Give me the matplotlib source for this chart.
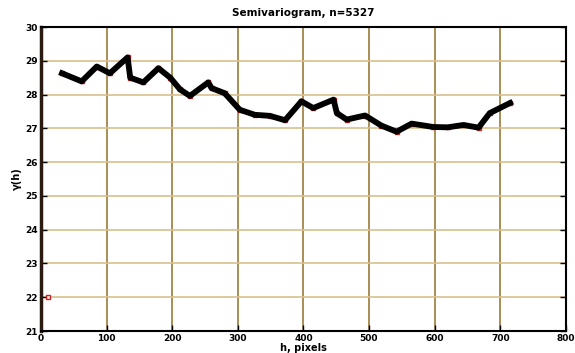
import matplotlib.pyplot as plt
import numpy as np

plt.rcParams['font.family'] = ['DejaVu Sans']
plt.rcParams['font.weight'] = 'bold'

# lag distance (pixels) and semivariance
h = [10, 32, 62, 85, 105, 132, 136, 156, 179, 197, 212, 227, 255, 260, 280,
     303, 326, 349, 372, 397, 415, 446, 451, 466, 494, 519, 542, 565, 598,
     620, 644, 667, 684, 715]
gamma = [22.0, 28.63, 28.39, 28.83, 28.63, 29.1, 28.5, 28.36, 28.78, 28.5,
         28.15, 27.96, 28.36, 28.19, 28.04, 27.55, 27.40, 27.37, 27.24, 27.8,
         27.6, 27.85, 27.45, 27.26, 27.38, 27.08, 26.9, 27.14, 27.04, 27.03,
         27.1, 27.02, 27.45, 27.75]
n_pairs = 5327

xticks = [0, 100, 200, 300, 400, 500, 600, 700, 800]
yticks = [21, 22, 23, 24, 25, 26, 27, 28, 29, 30]

fig = plt.figure(figsize=(5.75, 3.53), dpi=100)
ax = fig.add_axes([0.0713, 0.0623, 0.9127, 0.8612])

ax.plot(h[1:], gamma[1:], color='black', lw=4.2, solid_joinstyle='round', zorder=3)
ax.plot(h, gamma, ls='none', marker='s', ms=3.5, mfc='#fff6e0', mec='#d02020', mew=1.0, zorder=2)

ax.set_xlim(0, 800)
ax.set_ylim(21, 30)
ax.set_xticks(xticks)
ax.set_yticks(yticks)
for x in xticks[1:-1]:
    ax.axvline(x, color='#9c7a3a', lw=1.2, zorder=1)
for y in yticks[1:-1]:
    ax.axhline(y, color='#d9c08c', lw=1.2, zorder=1)

ax.tick_params(direction='in', length=4, width=1, labelsize=6.5, pad=2,
               top=False, right=True, colors='black')
for s in ['top', 'right', 'bottom']:
    ax.spines[s].set_linewidth(1.5)
ax.spines['left'].set_linewidth(2.5)
ax.spines['left'].set_color('#2a1a10')

ax.set_title(f'Semivariogram, n={n_pairs}', fontsize=7.5, fontweight='bold', pad=8)
ax.set_xlabel('h, pixels', fontsize=7, fontweight='bold', labelpad=0)
ax.set_ylabel('γ(h)', fontsize=7, fontweight='bold', labelpad=3)

fig.savefig('out.png', dpi=100)
